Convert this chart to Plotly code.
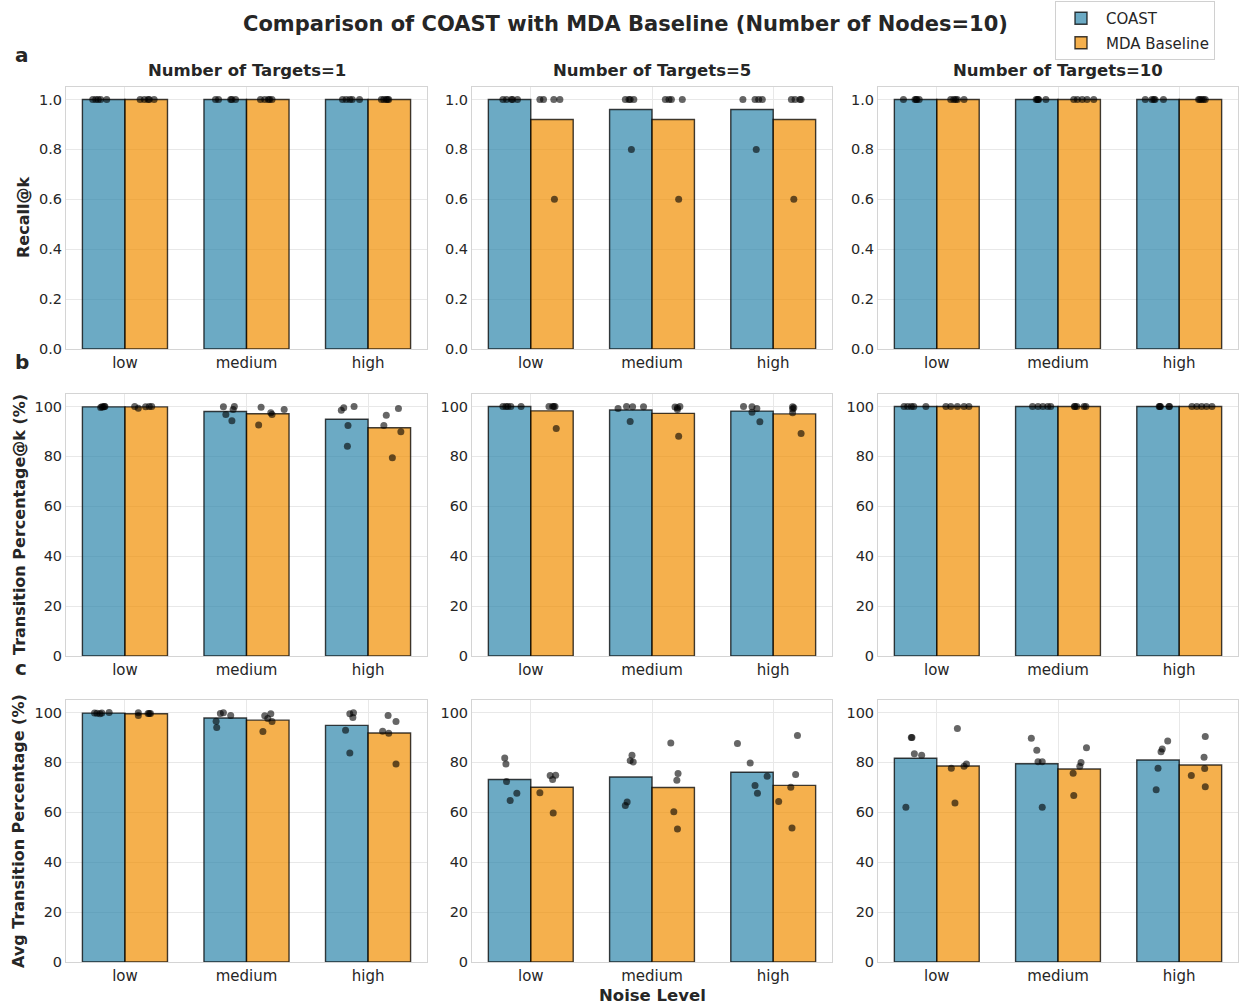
import plotly.graph_objects as go

# ---------------------------------------------------------------------------
# Data: per-seed results (5 seeds) for each metric / number of targets / noise
# ---------------------------------------------------------------------------
noise_levels = ["low", "medium", "high"]
target_counts = [1, 5, 10]
metric_names = ["Recall@k", "Transition Percentage@k (%)", "Avg Transition Percentage (%)"]
panel_letters = ["a", "b", "c"]
method_names = ["COAST", "MDA Baseline"]

# Recall@k  [targets][noise][seed]
recall_coast = [
    [[1, 1, 1, 1, 1], [1, 1, 1, 1, 1], [1, 1, 1, 1, 1]],
    [[1, 1, 1, 1, 1], [1, 1, 1, 1, 0.8], [1, 1, 1, 1, 0.8]],
    [[1, 1, 1, 1, 1], [1, 1, 1, 1, 1], [1, 1, 1, 1, 1]],
]
recall_mda = [
    [[1, 1, 1, 1, 1], [1, 1, 1, 1, 1], [1, 1, 1, 1, 1]],
    [[1, 1, 1, 1, 0.6], [1, 1, 1, 1, 0.6], [1, 1, 1, 1, 0.6]],
    [[1, 1, 1, 1, 1], [1, 1, 1, 1, 1], [1, 1, 1, 1, 1]],
]

# Transition Percentage@k (%)
transition_coast = [
    [[99.6, 99.8, 100, 100, 99.9], [99.9, 100, 98.8, 96.8, 94.3], [99.5, 98.5, 100, 92.4, 84.1]],
    [[100, 100, 100, 100, 100], [99.2, 100, 99.9, 99.9, 94.0], [100, 99.9, 99.2, 97.7, 93.9]],
    [[100, 100, 100, 100, 100], [100, 100, 100, 100, 100], [100, 100, 100, 100, 100]],
]
transition_mda = [
    [[100, 99.3, 99.9, 100, 100], [99.7, 97.5, 96.8, 98.8, 92.6], [99.2, 96.5, 92.4, 89.9, 79.5]],
    [[100, 100, 100, 100, 91.2], [99.8, 99.5, 100, 98.8, 88.1], [99.9, 99.5, 99.0, 97.5, 89.2]],
    [[100, 100, 100, 100, 100], [100, 100, 100, 100, 100], [100, 100, 100, 100, 100]],
]

# Avg Transition Percentage (%)
avg_transition_coast = [
    [[99.8, 99.7, 99.5, 99.8, 100], [99.6, 99.9, 98.8, 96.5, 94.0], [99.5, 99.9, 98.0, 92.9, 83.8]],
    [[81.8, 79.4, 72.3, 67.6, 64.7], [82.9, 80.7, 80.2, 64.1, 62.7], [87.6, 79.8, 74.4, 70.7, 67.6]],
    [[90.0, 90.0, 83.5, 82.9, 62.0], [89.7, 84.9, 80.3, 80.3, 62.0], [88.6, 85.4, 84.3, 77.6, 69.0]],
]
avg_transition_mda = [
    [[99.9, 98.8, 99.6, 99.6, 99.6], [98.7, 99.5, 97.6, 96.4, 92.4], [98.8, 96.4, 92.5, 91.7, 79.4]],
    [[74.7, 74.8, 73.1, 67.8, 59.7], [87.8, 75.5, 72.8, 60.2, 53.3], [90.8, 75.1, 70.0, 64.3, 53.7]],
    [[93.6, 77.6, 78.4, 79.4, 63.7], [85.9, 80.0, 78.4, 75.6, 66.7], [90.4, 82.1, 77.5, 74.7, 70.2]],
]

# Horizontal jitter of the seed dots (category units), same nesting as the data
jitter_coast = [
    [
        [[-0.265, -0.24, -0.2, -0.15, -0.22], [-0.255, -0.23, -0.13, -0.09, -0.12], [-0.21, -0.18, -0.13, -0.07, -0.15]],
        [[-0.23, -0.2, -0.16, -0.11, -0.15], [-0.22, -0.19, -0.15, -0.18, -0.17], [-0.25, -0.15, -0.12, -0.09, -0.14]],
        [[-0.275, -0.18, -0.165, -0.145, -0.17], [-0.18, -0.165, -0.1, -0.17, -0.16], [-0.28, -0.225, -0.2, -0.13, -0.21]],
    ],
    [
        [[-0.2, -0.18, -0.165, -0.17, -0.19], [-0.19, -0.10, -0.11, -0.17, -0.12], [-0.2, -0.22, -0.115, -0.165, -0.17]],
        [[-0.23, -0.205, -0.165, -0.08, -0.19], [-0.28, -0.21, -0.16, -0.07, -0.18], [-0.245, -0.175, -0.135, -0.175, -0.11]],
        [[-0.27, -0.24, -0.21, -0.19, -0.09], [-0.21, -0.165, -0.125, -0.085, -0.06], [-0.165, -0.16, -0.155, -0.085, -0.08]],
    ],
    [
        [[-0.25, -0.23, -0.205, -0.19, -0.13], [-0.215, -0.19, -0.13, -0.25, -0.245], [-0.15, -0.12, -0.125, -0.185, -0.15]],
        [[-0.215, -0.205, -0.2, -0.115, -0.17], [-0.165, -0.18, -0.155, -0.205, -0.22], [-0.295, -0.19, -0.05, -0.15, -0.13]],
        [[-0.21, -0.205, -0.185, -0.125, -0.255], [-0.22, -0.175, -0.165, -0.13, -0.13], [-0.095, -0.14, -0.15, -0.175, -0.19]],
    ],
]
jitter_mda = [
    [
        [[0.125, 0.16, 0.19, 0.24, 0.2], [0.115, 0.15, 0.18, 0.21, 0.19], [0.11, 0.13, 0.17, 0.15, 0.16]],
        [[0.075, 0.105, 0.19, 0.24, 0.195], [0.11, 0.14, 0.16, 0.25, 0.22], [0.15, 0.18, 0.22, 0.23, 0.17]],
        [[0.115, 0.14, 0.17, 0.225, 0.155], [0.13, 0.16, 0.2, 0.24, 0.295], [0.16, 0.185, 0.215, 0.2, 0.17]],
    ],
    [
        [[0.08, 0.11, 0.17, 0.2, 0.22], [0.12, 0.2, 0.21, 0.31, 0.10], [0.25, 0.15, 0.13, 0.27, 0.2]],
        [[0.15, 0.18, 0.2, 0.19, 0.21], [0.19, 0.21, 0.23, 0.21, 0.22], [0.16, 0.17, 0.16, 0.16, 0.23]],
        [[0.075, 0.115, 0.17, 0.225, 0.265], [0.135, 0.155, 0.215, 0.23, 0.14], [0.105, 0.145, 0.185, 0.225, 0.27]],
    ],
    [
        [[0.11, 0.11, 0.19, 0.2, 0.21], [0.15, 0.2, 0.175, 0.21, 0.135], [0.165, 0.23, 0.12, 0.17, 0.23]],
        [[0.16, 0.205, 0.18, 0.075, 0.185], [0.155, 0.215, 0.205, 0.18, 0.21], [0.2, 0.185, 0.145, 0.045, 0.155]],
        [[0.17, 0.12, 0.225, 0.245, 0.15], [0.235, 0.19, 0.18, 0.125, 0.13], [0.215, 0.205, 0.21, 0.1, 0.215]],
    ],
]

coast_by_metric = [recall_coast, transition_coast, avg_transition_coast]
mda_by_metric = [recall_mda, transition_mda, avg_transition_mda]

# ---------------------------------------------------------------------------
# Styling
# ---------------------------------------------------------------------------
FONT = "DejaVu Sans"
TEXT = "#262626"
COAST_FILL = "rgba(46,134,171,0.7)"
MDA_FILL = "rgba(241,143,1,0.7)"
EDGE = "rgba(0,0,0,0.75)"
DOT = "rgba(0,0,0,0.6)"
GRID = "#e8e8e8"
FRAME = "#d4d4d4"
BAR_W = 0.35

W, H = 1243, 1008
PH = 1000  # vertical extent used for placing panels and labels
col_px = [(66, 427), (472, 832), (878, 1238)]
row_px = [(87, 349), (394, 656), (700, 962)]
y_ranges = [[0, 1.05], [0, 105], [0, 105]]
y_ticks = [[0, 0.2, 0.4, 0.6, 0.8, 1.0], [0, 20, 40, 60, 80, 100], [0, 20, 40, 60, 80, 100]]
y_fmt = [".1f", "d", "d"]


def fy(p):
    """Vertical pixel position -> paper fraction."""
    return 1 - p / PH


fig = go.Figure()
layout = {}


def mean(vals):
    return sum(vals) / len(vals)


for r in range(3):
    for c in range(3):
        k = r * 3 + c + 1
        xa = "x" if k == 1 else f"x{k}"
        ya = "y" if k == 1 else f"y{k}"
        xkey = "xaxis" if k == 1 else f"xaxis{k}"
        ykey = "yaxis" if k == 1 else f"yaxis{k}"

        coast = coast_by_metric[r][c]
        mda = mda_by_metric[r][c]
        xs = list(range(len(noise_levels)))

        fig.add_trace(go.Bar(
            x=xs, y=[mean(v) for v in coast], width=BAR_W, offset=-BAR_W,
            name=method_names[0], legendgroup="coast", showlegend=(k == 1),
            marker=dict(color=COAST_FILL, line=dict(color=EDGE, width=1.4)),
            xaxis=xa, yaxis=ya,
        ))
        fig.add_trace(go.Bar(
            x=xs, y=[mean(v) for v in mda], width=BAR_W, offset=0,
            name=method_names[1], legendgroup="mda", showlegend=(k == 1),
            marker=dict(color=MDA_FILL, line=dict(color=EDGE, width=1.4)),
            xaxis=xa, yaxis=ya,
        ))

        # individual seed results
        px_, py_ = [], []
        for i in xs:
            for val, j in zip(coast[i], jitter_coast[r][c][i]):
                px_.append(i + j)
                py_.append(val)
            for val, j in zip(mda[i], jitter_mda[r][c][i]):
                px_.append(i + j)
                py_.append(val)
        fig.add_trace(go.Scatter(
            x=px_, y=py_, mode="markers", showlegend=False, hoverinfo="skip",
            marker=dict(size=7, color=DOT, line=dict(width=0)),
            xaxis=xa, yaxis=ya,
        ))

        x0, x1 = col_px[c]
        y0, y1 = row_px[r]
        layout[xkey] = dict(
            domain=[x0 / W, x1 / W], anchor=ya, range=[-0.485, 2.485],
            tickmode="array", tickvals=xs, ticktext=noise_levels,
            showgrid=True, gridcolor=GRID, gridwidth=1, zeroline=False,
            showline=True, mirror=True, linecolor=FRAME, linewidth=1,
            ticks="", tickfont=dict(family=FONT, size=15, color=TEXT),
        )
        layout[ykey] = dict(
            domain=[fy(y1), fy(y0)], anchor=xa, range=y_ranges[r],
            tickmode="array", tickvals=y_ticks[r], tickformat=y_fmt[r],
            showgrid=True, gridcolor=GRID, gridwidth=1, zeroline=False,
            showline=True, mirror=True, linecolor=FRAME, linewidth=1,
            ticks="", tickfont=dict(family=FONT, size=14.5, color=TEXT),
        )

annotations = []
annotations.append(dict(
    text="<b>Comparison of COAST with MDA Baseline (Number of Nodes=10)</b>",
    x=625 / W, y=fy(24), xref="paper", yref="paper", showarrow=False,
    xanchor="center", yanchor="middle", font=dict(family=FONT, size=21, color=TEXT),
))
for c, t in enumerate(target_counts):
    x0, x1 = col_px[c]
    annotations.append(dict(
        text=f"<b>Number of Targets={t}</b>",
        x=(x0 + x1) / 2 / W, y=fy(70), xref="paper", yref="paper", showarrow=False,
        xanchor="center", yanchor="middle", font=dict(family=FONT, size=16.5, color=TEXT),
    ))
letter_pos = [(22, 55), (22, 362), (21, 668)]
ytitle_x = [24, 19, 18]
for r in range(3):
    lx, ly = letter_pos[r]
    annotations.append(dict(
        text=f"<b>{panel_letters[r]}</b>", x=lx / W, y=fy(ly),
        xref="paper", yref="paper", showarrow=False, xanchor="center", yanchor="middle",
        font=dict(family=FONT, size=20, color=TEXT),
    ))
    y0, y1 = row_px[r]
    annotations.append(dict(
        text=f"<b>{metric_names[r]}</b>", x=ytitle_x[r] / W, y=fy((y0 + y1) / 2),
        xref="paper", yref="paper", showarrow=False, xanchor="center", yanchor="middle",
        textangle=-90, font=dict(family=FONT, size=16, color=TEXT),
    ))
annotations.append(dict(
    text="<b>Noise Level</b>", x=(col_px[1][0] + col_px[1][1]) / 2 / W, y=fy(995),
    xref="paper", yref="paper", showarrow=False, xanchor="center", yanchor="middle",
    font=dict(family=FONT, size=16.5, color=TEXT),
))

fig.update_layout(
    width=W, height=H,
    margin=dict(l=0, r=0, t=0, b=0),
    paper_bgcolor="white", plot_bgcolor="white",
    barmode="overlay",
    font=dict(family=FONT, color=TEXT),
    annotations=annotations,
    legend=dict(
        x=1055 / W, y=fy(1), xanchor="left", yanchor="top",
        bgcolor="white", bordercolor="#d0d0d0", borderwidth=1,
        font=dict(family=FONT, size=15, color=TEXT),
        tracegroupgap=2, itemwidth=40,
    ),
    **layout,
)

fig.write_html("out.html")
